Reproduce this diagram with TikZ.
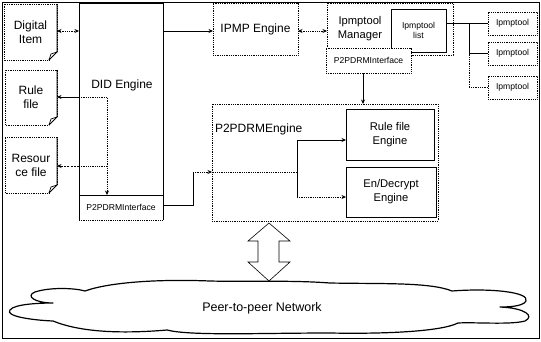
\documentclass[tikz,border=0pt]{standalone}
\usepackage{fontspec}
\setmainfont{Liberation Sans}
\usetikzlibrary{arrows.meta}
\begin{document}
\begin{tikzpicture}[x=1pt,y=-1pt,
  >={Stealth[length=4.5pt,width=4pt]},
  base/.style={inner sep=0pt, outer sep=0pt, align=center},
  ftA/.style={font=\fontsize{12}{14}\selectfont},
  ftB/.style={font=\fontsize{11.2}{14}\selectfont},
  ftC/.style={font=\fontsize{8.6}{10}\selectfont},
  dbox/.style={base, draw, densely dotted, line width=0.8pt},
  sbox/.style={base, draw, line width=1pt},
  sline/.style={line width=1pt},
  dline/.style={line width=0.8pt, densely dotted},
  sconn/.style={line width=0.9pt},
  dconn/.style={line width=0.8pt, densely dotted},
  dashconn/.style={line width=0.8pt, dash pattern=on 2pt off 1.2pt},
]
\useasboundingbox (0,0) rectangle (541,341);
\fill[white] (0,0) rectangle (541,341);
% frame
\draw[line width=0.9pt] (2,2) rectangle (539,338);

% document boxes
\node[base, ftA, minimum width=53pt, minimum height=56pt] (digital) at (30.5,32) {Digital\\Item};
\node[base, ftA, minimum width=52pt, minimum height=55pt] (rulef) at (31,97.5) {Rule\\file};
\node[base, ftA, minimum width=52pt, minimum height=56pt] (resf) at (31,165) {Resour\\ce file};
\foreach \d in {digital,rulef,resf}{
  \draw[dline] ([yshift=8pt]\d.south east) -- (\d.north east) -- (\d.north west) -- (\d.south west) -- ([xshift=-8pt]\d.south east);
  \draw[sline] (\d.north east) -- ([yshift=8pt]\d.south east) -- ([xshift=-8pt]\d.south east);
  \draw[line width=0.7pt] ([yshift=8pt]\d.south east) -- ([xshift=-6pt,yshift=6pt]\d.south east) -- ([xshift=-8pt]\d.south east);
}

% DID engine
\node[base, minimum width=84pt, minimum height=217pt] (did) at (121,111.5) {};
\draw[sline] (did.south west) -- (did.north west) -- (did.north east) -- (did.south east);
\draw[dline] (did.south west) -- (did.south east);
\node[base, ftA] (didlbl) at (122,85) {DID Engine};
\node[base, ftC, minimum width=84pt, minimum height=25pt] (didif) at (121,207.5) {P2PDRMInterface};
\draw[sline] (didif.north west) -- (didif.north east);

% IPMP engine
\node[dbox, ftA, minimum width=85pt, minimum height=52pt] (ipmp) at (255.5,29) {IPMP Engine};

% Ipmptool manager
\node[dbox, minimum width=126pt, minimum height=52pt] (mgr) at (390,29) {};
\node[base, ftB] (mgrlbl) at (360,28.5) {Ipmptool\\Manager};
\node[sbox, ftC, minimum width=55pt, minimum height=43pt, font=\fontsize{8.6}{9.5}\selectfont] (list) at (418.5,30.5) {Ipmptool\\list};
\node[dbox, ftC, fill=white, minimum width=85pt, minimum height=25pt] (mgrif) at (368.5,60.5) {P2PDRMInterface};

% Ipmptools
\node[dbox, ftC, minimum width=49pt, minimum height=23pt] (t1) at (512.5,23.5) {Ipmptool};
\node[dbox, ftC, minimum width=49pt, minimum height=23pt] (t2) at (512.5,53.5) {Ipmptool};
\node[dbox, ftC, minimum width=49pt, minimum height=23pt] (t3) at (512.5,87.5) {Ipmptool};

% P2PDRM engine
\node[dbox, minimum width=226pt, minimum height=117pt] (p2p) at (325,162.5) {};
\node[base, ftA, anchor=west] (p2plbl) at (215,129) {P2PDRMEngine};
\node[sbox, ftB, minimum width=88pt, minimum height=51pt] (rfe) at (390,134.5) {Rule file\\Engine};
\node[sbox, ftB, minimum width=90pt, minimum height=50pt] (ede) at (391,192) {En/Decrypt\\Engine};

% helper coordinates
\coordinate (yA) at (0,31);
\coordinate (yR) at (0,97);
\coordinate (yS) at (0,166);
\coordinate (xI) at (107,0);
\coordinate (yP) at (0,172);
\coordinate (yQ) at (0,205);
\coordinate (xP) at (193,0);
\coordinate (xJ) at (297,0);
\coordinate (yRF) at (0,140);
\coordinate (yED) at (0,197);
\coordinate (xM) at (363,0);
\coordinate (xB) at (469,0);

% connectors
\draw[dconn,<->] (digital.east |- yA) -- (did.west |- yA);
\draw[sconn,->] (did.east |- yA) -- (ipmp.west |- yA);
\draw[dconn,<->] (ipmp.east |- yA) -- (mgr.west |- yA);
\draw[sconn,->] (did.west |- yR) -- (rulef.east |- yR);
\draw[dconn,->] (did.west |- yR) -- (xI |- yR) -- (xI |- didif.north);
\draw[dashconn,->] (did.west |- yS) -- (resf.east |- yS);
\draw[dconn] (did.west |- yS) -- (xI |- yS);
\draw[sconn] (didif.east |- yQ) -- (xP |- yQ) -- (xP |- yP);
\draw[dconn,->] (xP |- yP) -- (p2p.west |- yP);
\draw[dconn] (xJ |- yP) -- (p2p.west |- yP);
\draw[sconn] (xJ |- yRF) -- (xJ |- yED);
\draw[sconn,->] (xJ |- yRF) -- (rfe.west |- yRF);
\draw[dconn,->] (xJ |- yED) -- (ede.west |- yED);
\draw[sconn,->] (xM |- mgrif.south) -- (xM |- p2p.north);
\draw[sconn] (list.east |- t1) -- (t1.west);
\draw[sconn] (xB |- t1) -- (xB |- t2) -- (t2.west);
\draw[dconn] (xB |- t2) -- (xB |- t3) -- (t3.west);

% big double arrow
\draw[line width=0.6pt, fill=white] (269,223) -- (290,241) -- (279,241) -- (279,262) -- (290,262) -- (269,281) -- (248,262) -- (258,262) -- (258,241) -- (248,241) -- cycle;

% cloud
\draw[line width=1.2pt, line join=round] (85,291)
  .. controls (110,282) and (160,279) .. (210,281)
  .. controls (250,282) and (290,280) .. (330,283)
  .. controls (380,284) and (430,282) .. (452,291)
  .. controls (490,288) and (530,292) .. (526,301)
  .. controls (523,307) and (505,307) .. (500,307)
  .. controls (525,308) and (535,316) .. (525,321)
  .. controls (510,325) and (475,322) .. (458,323)
  .. controls (440,332) and (380,334) .. (330,333)
  .. controls (260,333) and (190,336) .. (167,330)
  .. controls (120,334) and (80,332) .. (53,321)
  .. controls (30,320) and (5,316) .. (10,310)
  .. controls (14,304) and (40,303) .. (53,303)
  .. controls (35,303) and (25,296) .. (35,292)
  .. controls (50,287) and (75,288) .. (85,291) -- cycle;
\node[base, font=\fontsize{12.5}{14}\selectfont] (net) at (262,308) {Peer-to-peer Network};
\end{tikzpicture}
\end{document}
